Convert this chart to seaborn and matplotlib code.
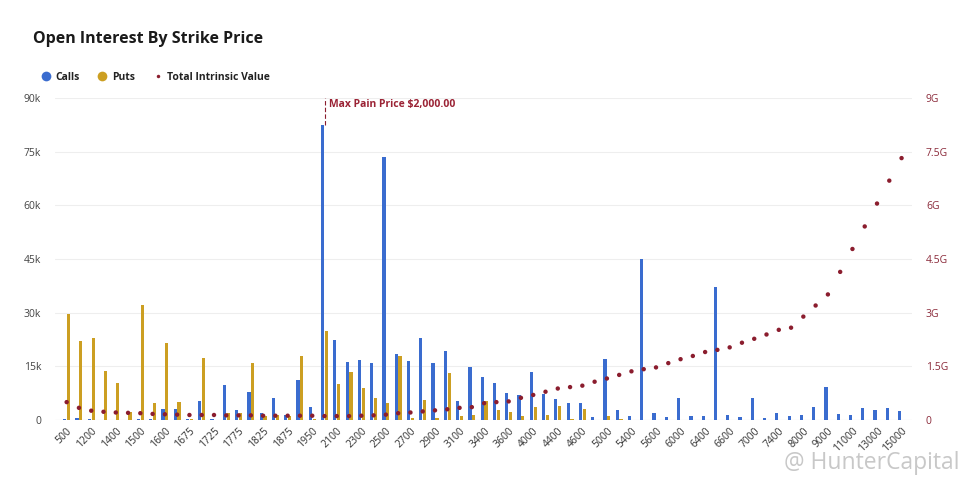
import numpy as np
import pandas as pd
import matplotlib
matplotlib.use("Agg")
import matplotlib.pyplot as plt
import seaborn as sns
from matplotlib.lines import Line2D

strikes = ["500","1000","1200","1300","1400","1450","1500","1550","1600","1650","1675","1700","1725","1750","1775",
           "1800","1825","1850","1875","1900","1950","2000","2100","2200","2300","2400","2500","2600","2700","2800",
           "2900","3000","3100","3200","3400","3500","3600","3800","4000","4200","4400","4500","4600","4800","5000",
           "5200","5400","5500","5600","5800","6000","6200","6400","6500","6600","6800","7000","7200","7400","7600",
           "8000","8500","9000","10000","11000","12000","13000","14000","15000"]

calls_k = [0.3,0.6,0.2,0.1,0.1,0.1,0.3,0.2,3.0,3.0,0.2,5.3,0.4,9.9,2.8,
           7.8,2.0,6.2,1.5,11.2,3.7,82.5,22.4,16.3,16.8,15.9,73.5,18.4,16.5,22.9,
           16.0,19.3,5.4,14.7,11.9,10.4,7.6,7.0,13.3,7.2,5.8,4.7,4.7,0.9,17.0,
           2.8,1.0,45.0,1.9,0.9,6.2,1.0,1.0,37.3,1.4,0.9,6.1,0.6,1.9,1.1,
           1.5,3.7,9.1,1.7,1.5,3.4,2.8,3.3,2.4]

puts_k = [29.6,22.2,23.0,13.8,10.4,2.2,32.1,4.7,21.4,5.1,0.2,17.3,0.1,2.0,2.0,
          16.0,1.0,1.5,1.2,17.9,0.3,25.0,10.1,13.5,8.9,6.1,4.7,17.9,0.5,5.6,
          0.5,13.1,1.0,1.5,5.4,2.8,2.1,1.0,3.6,1.5,4.0,0.3,3.0,0.1,1.1,
          0.4,0.1,0.0,0.0,0.0,0.0,0.0,0.0,0.0,0.0,0.0,0.0,0.0,0.0,0.0,
          0.0,0.0,0.0,0.0,0.0,0.0,0.0,0.0,0.0]

intrinsic_g = [0.50,0.34,0.26,0.23,0.21,0.20,0.19,0.17,0.16,0.15,0.14,0.14,0.14,0.13,0.13,
               0.13,0.12,0.12,0.12,0.12,0.12,0.11,0.11,0.11,0.12,0.13,0.15,0.19,0.21,0.24,
               0.27,0.30,0.34,0.36,0.47,0.50,0.52,0.62,0.70,0.79,0.88,0.92,0.96,1.07,1.16,
               1.26,1.36,1.42,1.47,1.59,1.70,1.79,1.90,1.96,2.03,2.16,2.27,2.39,2.52,2.58,
               2.89,3.20,3.51,4.14,4.78,5.41,6.05,6.69,7.32]

left_ticks = [0, 15, 30, 45, 60, 75, 90]
left_labels = ["0", "15k", "30k", "45k", "60k", "75k", "90k"]
right_ticks = [0, 1.5, 3, 4.5, 6, 7.5, 9]
right_labels = ["0", "1.5G", "3G", "4.5G", "6G", "7.5G", "9G"]
max_pain = "2000"

CALL_C = "#3a6ccf"
PUT_C = "#cc9f22"
DOT_C = "#8b1d2e"

sns.set_theme(style="white")
plt.rcParams["font.family"] = ["Open Sans", "DejaVu Sans"]

df = pd.DataFrame({
    "strike": strikes * 2,
    "oi": calls_k + puts_k,
    "type": ["Calls"] * len(strikes) + ["Puts"] * len(strikes),
})

fig = plt.figure(figsize=(9.75, 4.88), dpi=100)
ax = fig.add_axes([55/975, 1-420/488, (912-55)/975, (420-98)/488])

ax.yaxis.grid(True, color="#eeeeee", linewidth=0.8)
ax.set_axisbelow(True)

sns.barplot(data=df, x="strike", y="oi", hue="type", order=strikes,
            palette={"Calls": CALL_C, "Puts": PUT_C}, width=0.62, gap=0.15,
            saturation=1, linewidth=0, ax=ax, legend=False, zorder=3)

mp_idx = strikes.index(max_pain)
ax.vlines(mp_idx + 0.02, calls_k[mp_idx], 90, color=DOT_C, linestyle=(0, (4, 2)),
          linewidth=0.8, zorder=2)

ax.set_ylim(0, 90)
ax.set_xlim(-0.95, len(strikes) - 1 + 0.85)
ax.set_yticks(left_ticks)
ax.set_yticklabels(left_labels)
ax.set_xticks(range(0, len(strikes), 2))
ax.set_xticklabels(strikes[::2], rotation=45, ha="right", rotation_mode="anchor")
ax.tick_params(axis="x", labelsize=7.5, colors="#333333", length=0, pad=4)
ax.tick_params(axis="y", labelsize=7.5, colors="#444444", length=0, pad=10)
ax.set_xlabel("")
ax.set_ylabel("")
for s in ax.spines.values():
    s.set_visible(False)
ax.axhline(0, color="#e4e4e4", linewidth=0.8, zorder=2)

ax2 = ax.twinx()
sns.scatterplot(x=np.arange(len(strikes)), y=intrinsic_g, ax=ax2, color=DOT_C,
                s=10, edgecolor="none", zorder=4, legend=False)
ax2.set_ylim(0, 9)
ax2.set_xlim(ax.get_xlim())
ax2.set_yticks(right_ticks)
ax2.set_yticklabels(right_labels)
ax2.tick_params(axis="y", labelsize=7.5, colors="#8b2a3a", length=0, pad=10)
ax2.set_ylabel("")
for s in ax2.spines.values():
    s.set_visible(False)

ax.text(mp_idx + 0.35, 88.2, "Max Pain Price \\$2,000.00", color="#9b2335",
        fontsize=7.5, fontweight="bold", va="center", ha="left", zorder=5)

fig.text(33/975, 1-39/488, "Open Interest By Strike Price", fontsize=11.5,
         fontweight="bold", color="#1a1a1a", va="center", ha="left")

handles = [
    Line2D([], [], marker="o", linestyle="none", markersize=7, markerfacecolor=CALL_C, markeredgecolor="none"),
    Line2D([], [], marker="o", linestyle="none", markersize=7, markerfacecolor=PUT_C, markeredgecolor="none"),
    Line2D([], [], marker="o", linestyle="none", markersize=2.5, markerfacecolor=DOT_C, markeredgecolor="none"),
]
leg = fig.legend(handles, ["Calls", "Puts", "Total Intrinsic Value"], loc="center left",
                 bbox_to_anchor=(30/975, 1-77/488), ncol=3, frameon=False,
                 prop={"weight": "bold", "size": 7.5}, handletextpad=0.3,
                 columnspacing=1.6, handlelength=1.2)
for t in leg.get_texts():
    t.set_color("#222222")

fig.text(784/975, 1-463/488, "@ HunterCapital", fontsize=16.5, color="#c8c8c8",
         va="center", ha="left")

fig.savefig("out.png", dpi=100)
